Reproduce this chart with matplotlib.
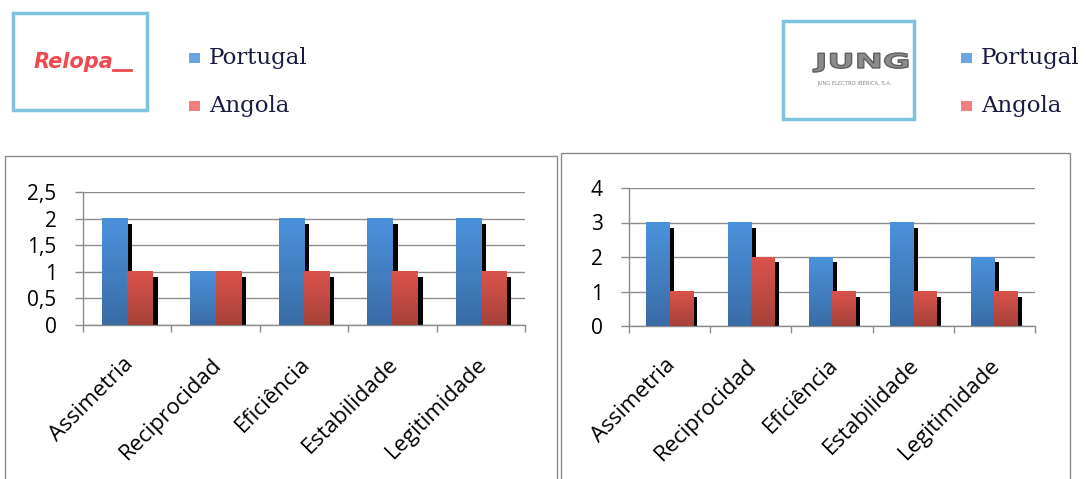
import numpy as np
import matplotlib
matplotlib.use('Agg')
import matplotlib.pyplot as plt
from matplotlib.patches import Rectangle, PathPatch
from matplotlib.textpath import TextPath
from matplotlib.font_manager import FontProperties
from matplotlib.colors import LinearSegmentedColormap
from matplotlib.transforms import offset_copy, blended_transform_factory, Affine2D

# Data
categories = ['Assimetria', 'Reciprocidad', 'Eficiência', 'Estabilidade', 'Legitimidade']
series_names = ['Portugal', 'Angola']
relopa_portugal = [2, 1, 2, 2, 2]
relopa_angola = [1, 1, 1, 1, 1]
jung_portugal = [3, 3, 2, 3, 2]
jung_angola = [1, 2, 1, 1, 1]

W, H = 1086, 479
fig = plt.figure(figsize=(W / 100, H / 100), dpi=100)
fig.patch.set_facecolor('white')

def fx(x):
    return x / W

def fy(y):
    return 1 - y / H

tick_font = 'Open Sans'
legend_font = 'DejaVu Serif'
grid_col = '#8c8c8c'

blue_cmap = LinearSegmentedColormap.from_list('b', ['#3a6ca6', '#4b92dc'])
red_cmap = LinearSegmentedColormap.from_list('r', ['#a6423a', '#da534b'])


def gradient_bars(ax, bars, cmap):
    grad = np.linspace(0, 1, 64).reshape(-1, 1)
    for b in bars:
        x0, w, h = b.get_x(), b.get_width(), b.get_height()
        b.set_facecolor('none')
        ax.imshow(grad, cmap=cmap, origin='lower', aspect='auto',
                  extent=[x0, x0 + w, 0, h], zorder=b.get_zorder(),
                  interpolation='bilinear')


def draw_chart(rect, a_vals, b_vals, ymax, ystep, fmt, shadow_dy):
    ax = fig.add_axes(rect)
    x = np.arange(len(categories)) + 0.5
    bw = 0.285
    sdx = 0.058
    # drop shadows behind the bars
    ax.bar(x - bw / 2 + sdx, np.array(a_vals) - shadow_dy, bw, color='black', zorder=2)
    ax.bar(x + bw / 2 + sdx, np.array(b_vals) - shadow_dy, bw, color='black', zorder=2)
    pb = ax.bar(x - bw / 2, a_vals, bw, zorder=3)
    rb = ax.bar(x + bw / 2, b_vals, bw, zorder=4)
    gradient_bars(ax, pb, blue_cmap)
    gradient_bars(ax, rb, red_cmap)

    ax.set_xlim(0, len(categories))
    ax.set_ylim(0, ymax)
    yt = np.arange(0, ymax + 1e-9, ystep)
    ax.set_yticks(yt)
    ax.set_yticklabels([fmt(v) for v in yt], fontsize=15, family=tick_font)
    ax.set_xticks(np.arange(len(categories) + 1))
    ax.set_xticklabels([])
    ax.tick_params(axis='y', length=5.5, width=1, color=grid_col, pad=13.5)
    ax.tick_params(axis='x', length=5, width=1, color=grid_col)
    ax.yaxis.grid(True, color=grid_col, lw=1)
    ax.set_axisbelow(True)
    for s in ['top', 'right']:
        ax.spines[s].set_visible(False)
    for s in ['left', 'bottom']:
        ax.spines[s].set_color(grid_col)
        ax.spines[s].set_linewidth(1)

    tr = offset_copy(blended_transform_factory(ax.transData, ax.transAxes),
                     fig=fig, x=2, y=-26, units='points')
    for xi, lab in zip(x, categories):
        ax.text(xi, 0, lab, transform=tr, rotation=45, rotation_mode='anchor',
                ha='right', va='center', fontsize=16, family=tick_font)
    return ax


draw_chart([fx(83), fy(325), (525 - 83) / W, (325 - 192) / H],
           relopa_portugal, relopa_angola, 2.5, 0.5,
           lambda v: ('%g' % v).replace('.', ','), 0.1)
draw_chart([fx(629), fy(326), (1035 - 629) / W, (326 - 188) / H],
           jung_portugal, jung_angola, 4, 1,
           lambda v: '%d' % v, 0.15)

# panel frames
for x0, x1, y0 in [(5, 557, 156), (561, 1070, 153)]:
    fig.patches.append(Rectangle((fx(x0), fy(H + 5)), (x1 - x0) / W, (H + 5 - y0) / H,
                                 transform=fig.transFigure, fill=False,
                                 edgecolor='#8a8a8a', lw=1))

# company logos
for x0, x1, y0, y1 in [(13, 147, 13, 110), (783, 914, 21, 119)]:
    fig.patches.append(Rectangle((fx(x0), fy(y1)), (x1 - x0) / W, (y1 - y0) / H,
                                 transform=fig.transFigure, facecolor='white',
                                 edgecolor='#7ec3df', lw=2.5))
fig.text(fx(74), fy(62), 'Relopa', color='#ee4a50', fontsize=15, fontweight='bold',
         style='italic', family='DejaVu Sans', ha='center', va='center')
fig.lines.append(plt.Line2D([fx(113), fx(131)], [fy(70), fy(70)], color='#ee4a50',
                            lw=2, transform=fig.transFigure))

# JUNG wordmark, stretched wide in pixel space
jung = TextPath((0, 0), 'JUNG', size=1, prop=FontProperties(family='DejaVu Sans', weight='bold'))
ext = jung.get_extents()
sx = (908 - 813) / ext.width
sy = (72 - 53) / ext.height
jt = Affine2D().translate(-ext.x0, -ext.y0).scale(sx, sy).translate(813, H - 72)
fig.patches.append(PathPatch(jt.transform_path(jung), transform=None,
                             facecolor='#8c8c8c', edgecolor='#5e5e5e', lw=1))
fig.text(fx(855), fy(83), 'JUNG ELECTRO IBÉRICA, S.A.', color='#888888', fontsize=3.8,
         family='DejaVu Sans', ha='center', va='center')

# legends
legend_cols = ['#68a6e4', '#f07f7f']
for lx in [189, 961]:
    for i, (name, col) in enumerate(zip(series_names, legend_cols)):
        yc = 58 + i * 48
        fig.patches.append(Rectangle((fx(lx), fy(yc + 5)), 11 / W, 10 / H,
                                     transform=fig.transFigure, facecolor=col,
                                     edgecolor='none'))
        fig.text(fx(lx + 20), fy(yc), name, fontsize=16.5, family=legend_font,
                 color='#1a1a40', ha='left', va='center')

fig.savefig('out.png', dpi=100, facecolor='white')
